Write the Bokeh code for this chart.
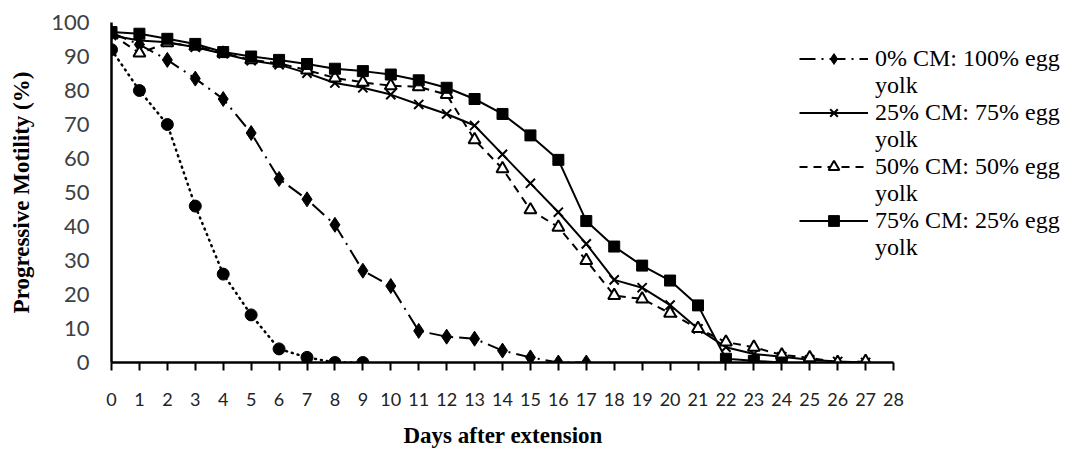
from bokeh.plotting import figure
from bokeh.models import Range1d, FixedTicker, Legend, LegendItem, Title
from bokeh.embed import file_html
from bokeh.resources import INLINE

# ---- data ----
days_ctrl = list(range(0, 10))
ctrl = [92, 80, 70, 46, 26, 14, 4, 1.5, 0, 0]

days_cm0 = list(range(0, 18))
cm0 = [97, 93.5, 89, 83.5, 77.5, 67.5, 54, 48, 40.5, 27, 22.5, 9.3, 7.6, 7, 3.5, 1.5, 0, 0]

days_cm25 = list(range(0, 28))
cm25 = [96.2, 94.7, 94.2, 92.7, 90.8, 88.8, 87.6, 85.1, 82.2, 80.8, 78.8, 75.9, 73.1, 69.7,
        61.2, 52.7, 44.2, 34.9, 24.3, 22, 16.9, 9.9, 4.5, 2.5, 1.7, 0.8, 0.3, 0]

days_cm50 = list(range(0, 28))
cm50 = [96.5, 91, 94, 93, 91, 89, 88, 86, 83.7, 82.4, 81.4, 81.1, 78.8, 65.5,
        57, 44.9, 39.8, 30, 19.7, 18.7, 14.5, 10, 6, 4.5, 2.2, 1.4, 0, 0.3]

days_cm75 = list(range(0, 25))
cm75 = [97.2, 96.7, 95.2, 93.7, 91.3, 90, 89, 87.8, 86.4, 85.7, 84.7, 83, 80.8, 77.5,
        73.1, 66.8, 59.6, 41.6, 34.1, 28.5, 24.1, 16.8, 1.1, 0.5, 0]

legend_labels = ["0% CM: 100% egg", "25% CM: 75% egg", "50% CM: 50% egg", "75% CM: 25% egg"]
x_ticks = list(range(0, 29))
y_ticks = list(range(0, 101, 10))

# frame: x from 111 to 1067 px; 28 days span 782 px, the rest holds the legend
X_END = 28 * 956 / 782

p = figure(width=1067, height=459, output_backend="svg", toolbar_location=None,
           x_range=Range1d(0, X_END), y_range=Range1d(0, 100),
           min_border_left=111, min_border_right=0, min_border_top=22, min_border_bottom=97)
p.outline_line_color = None
p.grid.visible = False
p.background_fill_color = "white"
p.border_fill_color = "white"

# control (dotted, circles)
p.line(days_ctrl, ctrl, line_color="black", line_width=2.5, line_dash="1 5", line_cap="round")
p.scatter(days_ctrl, ctrl, marker="circle", size=12, fill_color="black", line_color="black")

# 0% CM
l0 = p.line(days_cm0, cm0, line_color="black", line_width=2, line_dash="16 6 2 6")
m0 = p.scatter(days_cm0, cm0, marker="diamond", size=15, fill_color="black", line_color="black")

# 25% CM
l25 = p.line(days_cm25, cm25, line_color="black", line_width=2)
m25 = p.scatter(days_cm25, cm25, marker="x", size=13, line_color="black", line_width=2)

# 50% CM
l50 = p.line(days_cm50, cm50, line_color="black", line_width=2, line_dash="8 6")
m50 = p.scatter(days_cm50, cm50, marker="triangle", size=12, fill_color="white",
                line_color="black", line_width=2)

# 75% CM
l75 = p.line(days_cm75, cm75, line_color="black", line_width=2)
m75 = p.scatter(days_cm75, cm75, marker="square", size=11, fill_color="black", line_color="black")

# invisible renderer for the wrapped "yolk" rows
blank = p.line([0, 0], [0, 0], line_alpha=0)

items = []
for lab, rs in zip(legend_labels, [[l0, m0], [l25, m25], [l50, m50], [l75, m75]]):
    items.append(LegendItem(label=lab, renderers=rs))
    items.append(LegendItem(label="yolk", renderers=[blank]))

leg = Legend(items=items, location=(688, 101), border_line_color=None,
             background_fill_alpha=0, padding=0, margin=0, spacing=0,
             label_height=27, glyph_height=27, glyph_width=69, label_standoff=7,
             label_text_font="Liberation Serif", label_text_font_size="24px",
             label_text_color="black")
p.add_layout(leg, "center")

# axes
xa = p.xaxis[0]
xa.bounds = (0, 28)
xa.ticker = FixedTicker(ticks=x_ticks)
xa.axis_line_width = 2.5
xa.axis_line_color = "black"
xa.major_tick_line_width = 2
xa.major_tick_out = 8
xa.major_tick_in = 0
xa.minor_tick_out = 0
xa.minor_tick_in = 0
xa.major_label_standoff = 22
xa.major_label_text_font = "Lato"
xa.major_label_text_font_size = "18px"
xa.major_label_text_color = "#222222"

# x-axis title, centred under the 0-28 day span rather than the whole frame
xt = Title(text="Days  after extension", align="left", offset=292, standoff=24,
           text_font="Liberation Serif", text_font_style="bold", text_font_size="23px",
           text_color="black")
p.add_layout(xt, "below")

ya = p.yaxis[0]
ya.ticker = FixedTicker(ticks=y_ticks)
ya.axis_line_width = 2.5
ya.axis_line_color = "black"
ya.major_tick_out = 0
ya.major_tick_in = 0
ya.minor_tick_out = 0
ya.minor_tick_in = 0
ya.major_label_standoff = 22
ya.major_label_text_font = "Lato"
ya.major_label_text_font_size = "22px"
ya.major_label_text_color = "#404040"
ya.axis_label = "Progressive Motility (%)"
ya.axis_label_text_font = "Liberation Serif"
ya.axis_label_text_font_style = "bold"
ya.axis_label_text_font_size = "23px"
ya.axis_label_text_color = "black"
ya.axis_label_standoff = 14

open("out.html", "w").write(file_html(p, INLINE))
